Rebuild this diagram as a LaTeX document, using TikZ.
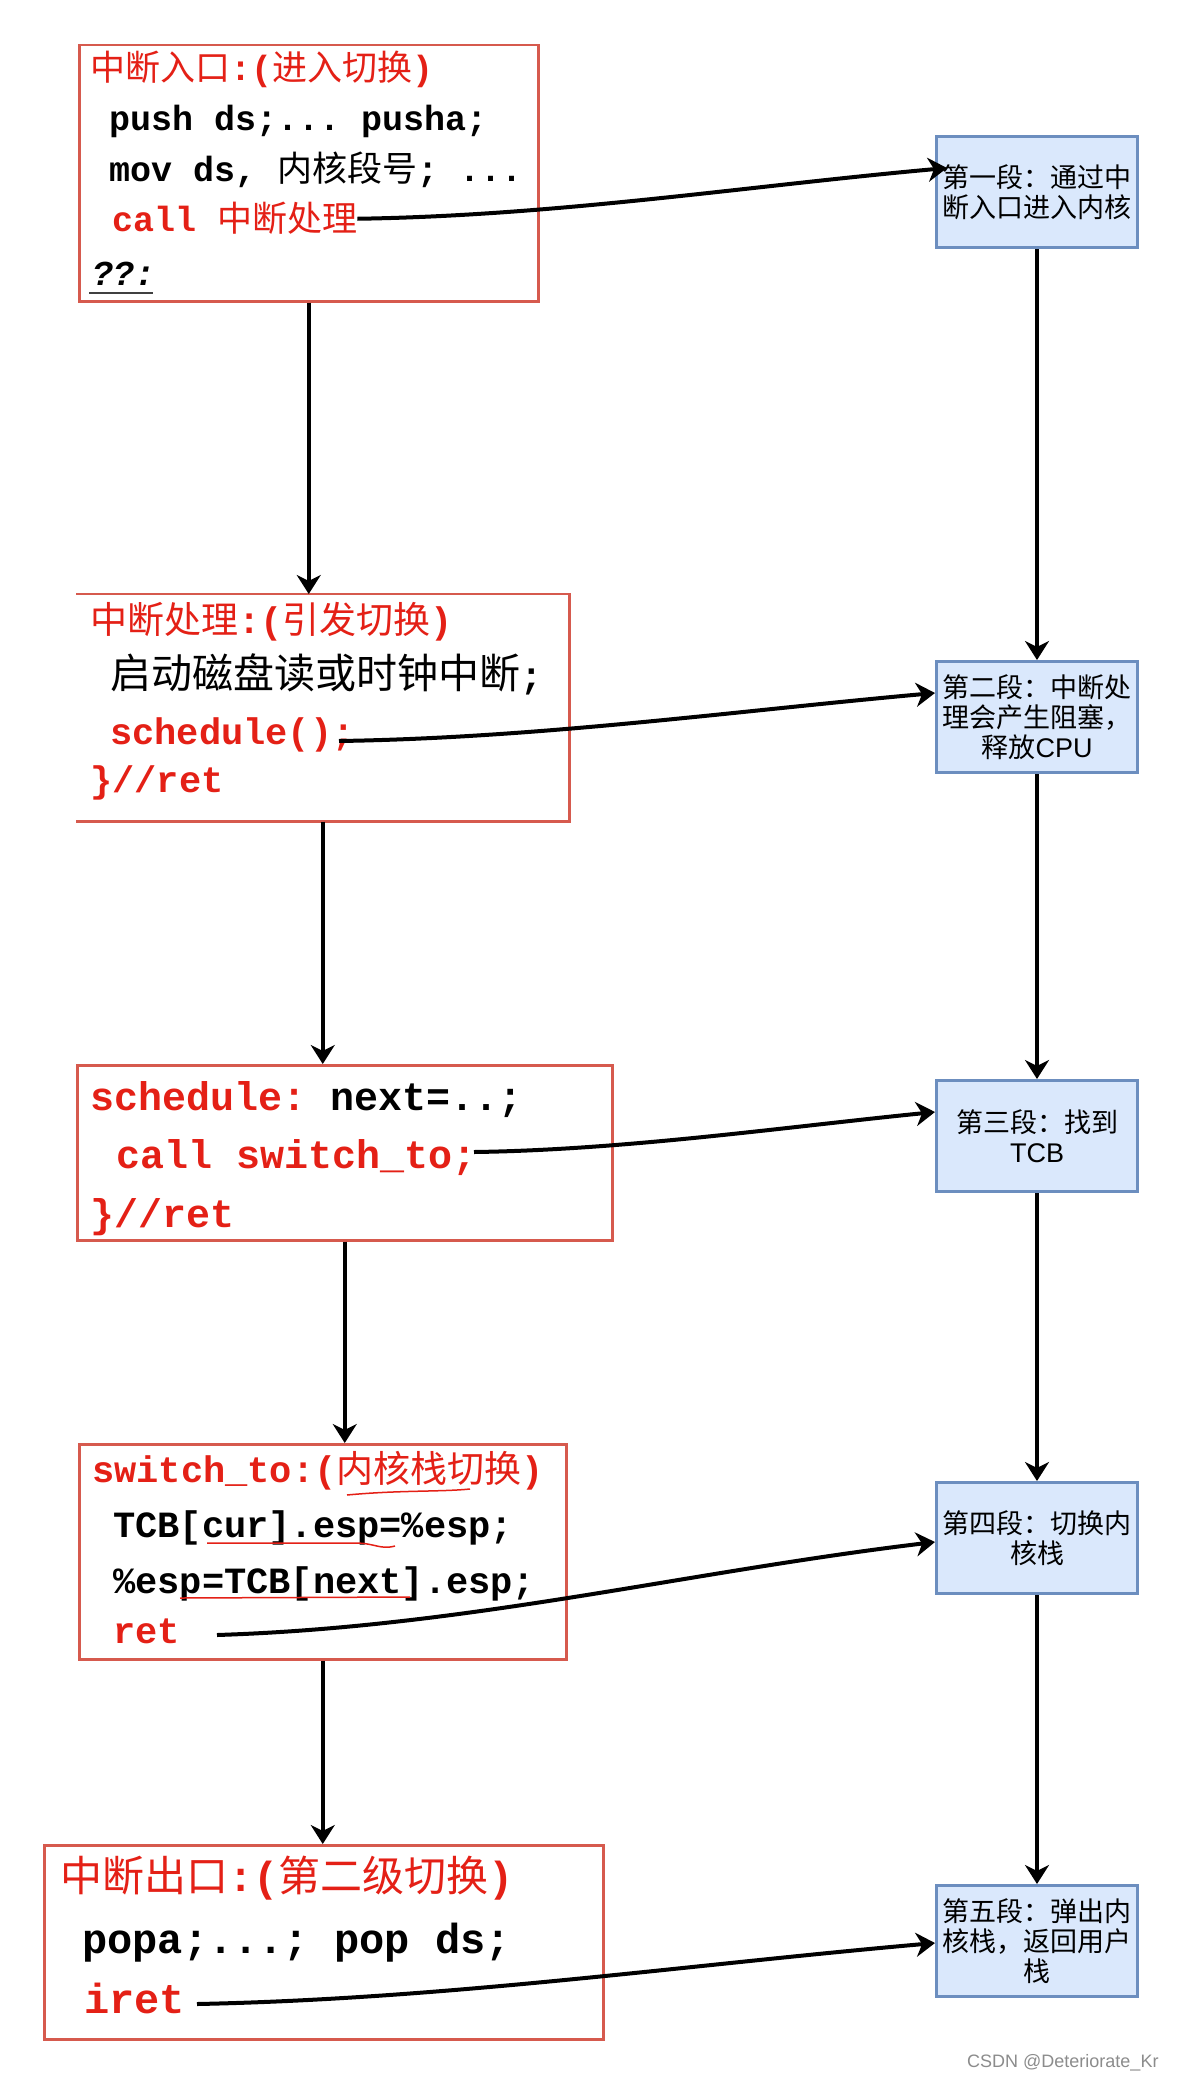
\documentclass[tikz,border=0pt]{standalone}
\usepackage{fontspec}
\setmonofont{Liberation Mono}
\newfontfamily\cjk{Noto Sans CJK SC}
\newfontfamily\lsans{Liberation Sans}
\usetikzlibrary{arrows.meta,calc}
\definecolor{codered}{RGB}{228,32,22}
\definecolor{boxred}{RGB}{214,90,78}
\definecolor{bluefill}{HTML}{DAE8FC}
\definecolor{blueline}{HTML}{6C8EBF}
\newcommand{\sz}[1]{\fontsize{#1}{#1}\selectfont}
\newcommand{\zh}[1]{{\cjk\mdseries #1}}
\begin{document}
\begin{tikzpicture}[x=1pt,y=-1pt,
  lbox/.style={draw=boxred, line width=2.5pt, anchor=north west, inner sep=0pt},
  rbox/.style={draw=blueline, fill=bluefill, line width=3pt, minimum width=201pt, minimum height=111pt,
    inner sep=0pt, align=center, font=\cjk\fontsize{27}{30}\selectfont},
  code/.style={anchor=base west, inner sep=0pt, font=\ttfamily\bfseries},
  arr/.style={line width=4pt, -{Stealth[length=19pt,width=24pt,inset=6pt]}},
  note/.style={codered, line width=1.5pt}]
\useasboundingbox (0,0) rectangle (1180,2084);
\fill[white] (0,0) rectangle (1180,2084);

% ---------- left boxes ----------
\node[lbox, minimum width=459pt, minimum height=256pt] (b1) at (78,44) {};
\node[lbox, draw=none, minimum width=491pt, minimum height=225pt] (b2) at (76,594) {};
\draw[boxred, line width=2.5pt] (b2.north west) -- (b2.north east) -- (b2.south east) -- (b2.south west);
\node[lbox, minimum width=535pt, minimum height=175pt] (b3) at (76,1064) {};
\node[lbox, minimum width=487pt, minimum height=215pt] (b4) at (78,1443) {};
\node[lbox, minimum width=559pt, minimum height=194pt] (b5) at (43,1844) {};

% box 1
\node[code, codered, font=\ttfamily\bfseries\sz{35}] (t1a) at (90,81) {\zh{中断入口}:(\zh{进入切换})};
\node[code, font=\ttfamily\bfseries\sz{35}] (t1b) at (109,131) {push ds;... pusha;};
\node[code, font=\ttfamily\bfseries\sz{35}] (t1c) at (109,182) {mov ds, \zh{内核段号}; ...};
\node[code, codered, font=\ttfamily\bfseries\sz{35}] (t1d) at (112,232) {call \zh{中断处理}};
\node[code, font=\ttfamily\bfseries\itshape\sz{35}] (t1e) at (92,285) {??:};
\draw[line width=2pt, black!75] (t1e.south west) ++(-3,8) coordinate (u1) -- ++(64,0);

% box 2
\node[code, codered, font=\ttfamily\bfseries\sz{37}] (t2a) at (90,633) {\zh{中断处理}:(\zh{引发切换})};
\node[code, font=\ttfamily\bfseries\sz{37}] (t2b) at (110,688) {{\sz{41}\zh{启动磁盘读或时钟中断}};};
\node[code, codered, font=\ttfamily\bfseries\sz{37}] (t2c) at (110,744) {schedule();};
\node[code, codered, font=\ttfamily\bfseries\sz{37}] (t2d) at (90,792) {\}//ret};

% box 3
\node[code, font=\ttfamily\bfseries\sz{40}] (t3a) at (90,1110) {\textcolor{codered}{schedule:} next=..;};
\node[code, codered, font=\ttfamily\bfseries\sz{40}] (t3b) at (116,1168) {call switch\_to;};
\node[code, codered, font=\ttfamily\bfseries\sz{40}] (t3c) at (90,1227) {\}//ret};

% box 4
\node[code, codered, font=\ttfamily\bfseries\sz{37}] (t4a) at (92,1482) {switch\_to:(\zh{内核栈切换})};
\node[code, font=\ttfamily\bfseries\sz{37}] (t4b) at (113,1537) {TCB[cur].esp=\%esp;};
\node[code, font=\ttfamily\bfseries\sz{37}] (t4c) at (113,1593) {\%esp=TCB[next].esp;};
\node[code, codered, font=\ttfamily\bfseries\sz{37}] (t4d) at (113,1643) {ret};
\draw[note] (347,1495) .. controls (400,1490) and (440,1492) .. (470,1489);
\draw[note] (207,1543) -- (355,1543) .. controls (375,1543) and (380,1550) .. (395,1546);
\draw[note] (180,1598) -- (410,1597);

% box 5
\node[code, codered, font=\ttfamily\bfseries\sz{42}] (t5a) at (60,1891) {\zh{中断出口}:(\zh{第二级切换})};
\node[code, font=\ttfamily\bfseries\sz{42}] (t5b) at (82,1953) {popa;...; pop ds;};
\node[code, codered, font=\ttfamily\bfseries\sz{42}] (t5c) at (84,2013) {iret};

% ---------- right boxes ----------
\node[rbox] (r1) at (1037,192.5) {第一段：通过中\\断入口进入内核};
\node[rbox] (r2) at (1037,717) {第二段：中断处\\理会产生阻塞，\\释放{\lsans CPU}};
\node[rbox] (r3) at (1037,1136) {第三段：找到\\{\lsans TCB}};
\node[rbox] (r4) at (1037,1538) {第四段：切换内\\核栈};
\node[rbox] (r5) at (1037,1941) {第五段：弹出内\\核栈，返回用户\\栈};

% ---------- vertical arrows ----------
\draw[arr] (b1.south) -- (b1.south |- b2.north);
\draw[arr] (b2.south) -- (b2.south |- b3.north);
\draw[arr] (b3.south) -- (b3.south |- b4.north);
\draw[arr] (b4.south) -- (b4.south |- b5.north);
\draw[arr] (r1.south) -- (r2.north);
\draw[arr] (r2.south) -- (r3.north);
\draw[arr] (r3.south) -- (r4.north);
\draw[arr] (r4.south) -- (r5.north);

% ---------- curved arrows ----------
\coordinate (s2) at (339,741);
\coordinate (s3) at (474,1152);
\coordinate (s4) at (217,1635);
\coordinate (s5) at (197,2004);
\draw[arr] (t1d.east) .. controls +(200,-3) and +(-200,18) .. ([xshift=12pt,yshift=24.5pt]r1.west);
\draw[arr] (s2) .. controls +(200,-3) and +(-200,18) .. ([yshift=24pt]r2.west);
\draw[arr] (s3) .. controls +(150,-2) and +(-150,15) .. ([yshift=24pt]r3.west);
\draw[arr] (s4) .. controls +(250,-8) and +(-250,30) .. ([yshift=-4pt]r4.west);
\draw[arr] (s5) .. controls +(250,-5) and +(-250,22) .. ([yshift=-2pt]r5.west);

% watermark
\node[anchor=west, inner sep=0pt, text=black!45, font=\lsans\fontsize{18}{18}\selectfont] (wm) at (967,2063) {CSDN @Deteriorate\_Kr};
\end{tikzpicture}
\end{document}
